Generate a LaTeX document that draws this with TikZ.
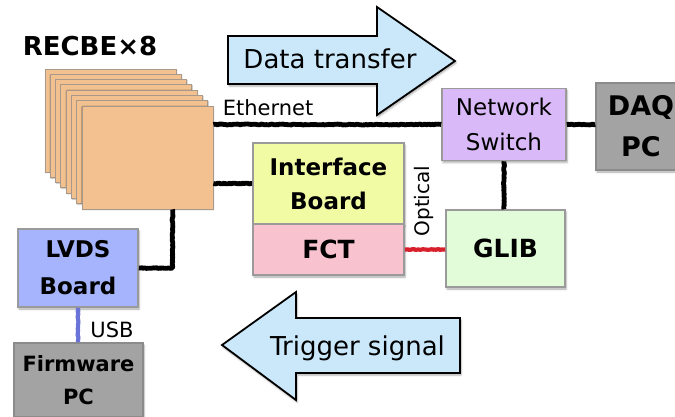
\documentclass[tikz,border=0pt]{standalone}
\usepackage{fontspec}
\setmainfont{DejaVu Sans}
\usetikzlibrary{shadows.blur,decorations.pathmorphing}

\definecolor{peach}{HTML}{F2C18F}
\definecolor{peachline}{HTML}{A8998A}
\definecolor{ifacecol}{HTML}{F1FBA3}
\definecolor{fctcol}{HTML}{F8C3CF}
\definecolor{switchcol}{HTML}{D9B9F7}
\definecolor{pccol}{HTML}{A3A3A3}
\definecolor{glibcol}{HTML}{E2FCD9}
\definecolor{lvdscol}{HTML}{A5B4FD}
\definecolor{arrowcol}{HTML}{CBE8FB}
\definecolor{boxline}{HTML}{9A9A9A}
\definecolor{optred}{HTML}{D8202C}
\definecolor{usbblue}{HTML}{6A74D8}

\tikzset{
  softshadow/.style={blur shadow={shadow xshift=1pt, shadow yshift=-2pt,
      shadow blur radius=2pt, shadow opacity=35}},
  box/.style={draw=boxline, line width=1.6pt, align=center, inner sep=0pt,
      softshadow},
  bold/.style={font=\fontsize{#1}{#1}\selectfont\bfseries},
  plain/.style={font=\fontsize{#1}{#1}\selectfont},
  layer/.style={draw=peachline, line width=0.8pt, fill=peach,
      minimum width=131pt, minimum height=103pt, inner sep=0pt,
      blur shadow={shadow xshift=0.6pt, shadow yshift=-0.8pt,
      shadow blur radius=1pt, shadow opacity=30}},
  wire/.style={draw=black, line width=4.8pt, line join=round,
      decoration={random steps, segment length=1.5pt, amplitude=0.45pt},
      decorate},
  bigarrow/.style={draw=black, line width=1.8pt, fill=arrowcol,
      line join=miter, softshadow},
}

\begin{document}
\begin{tikzpicture}[x=1pt, y=-1pt]
\useasboundingbox (0,0) rectangle (675,416);
\clip (0,0) rectangle (675,416);

% stack of eight readout boards, back to front
\node[bold=26, anchor=base] (recbetitle) at (90,55) {RECBE×8};
\foreach \i in {0,...,7}
  \node[layer] (layer\i) at ({110.5+5.29*\i},{120.5+5.29*\i}) {};

% boards and computers
\node[box, fill=ifacecol, minimum width=151pt, minimum height=81pt,
      font=\fontsize{23}{34}\selectfont\bfseries] (iface) at (328.5,183.5)
      {Interface\\Board};
\node[box, fill=fctcol, minimum width=151pt, minimum height=51pt,
      bold=25] (fct) at (328.5,249.5) {FCT};
\node[box, fill=switchcol, minimum width=124pt, minimum height=72pt,
      font=\fontsize{23}{35}\selectfont] (switch) at (504,124.5)
      {Network\\Switch};
\node[box, fill=pccol, draw=pccol!85!black, minimum width=90pt,
      minimum height=87pt, font=\fontsize{27}{41}\selectfont\bfseries]
      (daq) at (641,126.5) {DAQ\\PC};
\node[box, fill=glibcol, minimum width=119pt, minimum height=77pt,
      bold=25] (glib) at (505.5,248.5) {GLIB};
\node[box, fill=lvdscol, minimum width=120pt, minimum height=78pt,
      font=\fontsize{23}{37}\selectfont\bfseries] (lvds) at (78,268)
      {LVDS\\Board};
\node[box, fill=pccol, draw=pccol!85!black, minimum width=129pt,
      minimum height=74pt, font=\fontsize{21}{33}\selectfont\bfseries]
      (fw) at (78.5,380) {Firmware\\PC};

% cables between the boxes
\path[wire] (switch.west -| layer7.east) -- (switch.west);
\path[wire] (iface.west -| layer7.east) -- (iface.west);
\path[wire] (switch.east) -- (switch.east -| daq.west);
\path[wire] (switch.south) -- (switch.south |- glib.north);
\path[wire] (lvds.east) -| ([xshift=25pt]layer7.south);
\path[wire, draw=optred, line width=4.2pt] (fct.east) -- (fct.east -| glib.west);
\path[wire, draw=usbblue, line width=4.2pt] (lvds.south) -- (lvds.south |- fw.north);

% cable labels
\node[plain=21] (ethlabel) at (268,108) {Ethernet};
\node[plain=21] (usblabel) at (112,330) {USB};
\node[plain=20, rotate=90] (optlabel) at (424,201) {Optical};

% direction arrows
\draw[bigarrow] (228,36) -- (377,36) -- (377,7) -- (455,61) -- (377,115)
  -- (377,84) -- (228,84) -- cycle;
\node[plain=26, anchor=base] (datalabel) at (330,68) {Data transfer};

\draw[bigarrow] (460,318) -- (296,318) -- (296,292) -- (222,345)
  -- (296,400) -- (296,373) -- (460,373) -- cycle;
\node[plain=26, anchor=base] (triglabel) at (357.5,355) {Trigger signal};
\end{tikzpicture}
\end{document}
